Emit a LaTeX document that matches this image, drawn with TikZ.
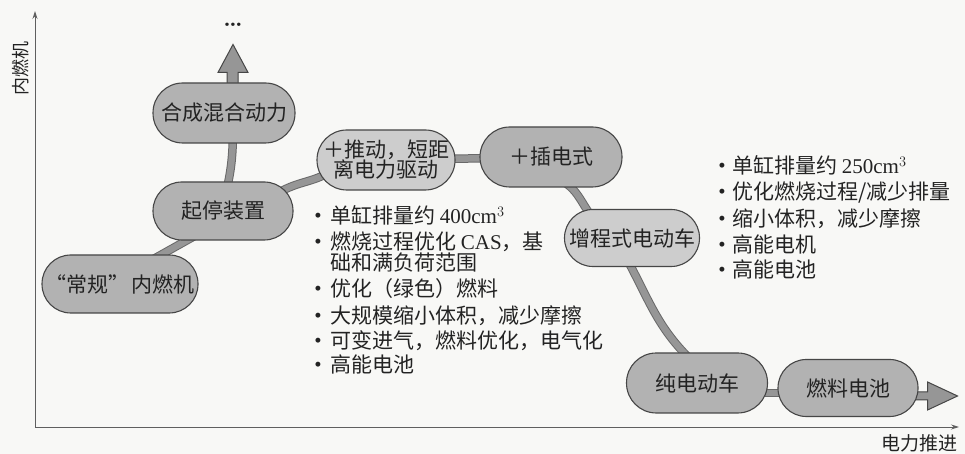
\documentclass[tikz,border=0pt]{standalone}
\usepackage{fontspec}
\newfontfamily\cjk{Noto Sans CJK SC}
\newfontfamily\latf{Liberation Serif}
\usetikzlibrary{backgrounds,calc,arrows.meta}
\definecolor{nodefill}{RGB}{178,178,178}
\definecolor{nodelight}{RGB}{205,205,205}
\definecolor{edge}{RGB}{70,70,70}
\definecolor{band}{RGB}{150,150,150}
\definecolor{bandedge}{RGB}{105,105,105}
\definecolor{ink}{RGB}{35,35,35}
\definecolor{axiscol}{RGB}{95,95,95}
\definecolor{paper}{RGB}{248,248,246}
\newcommand\bulA{\makebox[20pt][l]{\rmfamily\fontsize{22}{22}\selectfont\raisebox{2pt}{\textbullet}}}
\newcommand\bulB{\makebox[18pt][l]{\rmfamily\fontsize{22}{22}\selectfont\raisebox{2pt}{\textbullet}}}
\tikzset{
  pill/.style 2 args={draw=edge, line width=1.1pt, fill=nodefill, rectangle,
    minimum width=#1pt, minimum height=#2pt, inner sep=0pt,
    rounded corners=#2pt/2-0.2pt, font=\cjk\fontsize{21}{22}\selectfont,
    text=ink, align=center},
  conn/.style={draw=bandedge, line width=1pt, double=band, double distance=6.5pt},
  bigarrow/.style={draw=edge, line width=1pt, fill=band, line join=miter},
  axisline/.style={draw=axiscol, line width=0.9pt, -{Stealth[length=8pt,width=5pt]}},
  item/.style={anchor=base west, inner sep=0pt, text=ink, font=\cjk\fontsize{21}{22}\selectfont},
  axislabel/.style={inner sep=0pt, text=ink, font=\cjk\fontsize{18}{18}\selectfont}
}
\begin{document}
\begin{tikzpicture}[x=1pt,y=1pt]
\useasboundingbox (0,0) rectangle (965,454);

% nodes
\node[pill={156}{58}] (conv) at (120,170) {“常规”\hspace{3pt}内燃机};
\node[pill={140}{58}] (ss) at (223,243) {起停装置};
\node[pill={142}{60}] (syn) at (224,341) {合成混合动力};
\node[pill={138}{60}, fill=nodelight] (push) at (386,294) {＋推动，短距\\[-2pt]离电力驱动};
\node[pill={142}{60}] (plug) at (551,297) {＋插电式};
\node[pill={135}{57}, fill=nodelight] (rex) at (632,216) {增程式电动车};
\node[pill={141}{60}] (bev) at (697,71) {纯电动车};
\node[pill={140}{57}] (fc) at (848,66) {燃料电池};

\begin{pgfonlayer}{background}
\fill[paper] (0,0) rectangle (965,454);
\draw[conn] ($(conv.center)+(30,23)$) -- ($(ss.center)+(-23,-22)$);
\draw[conn] ($(ss.center)+(1,11)$) to[out=75,in=-90] ($(syn.center)+(9,-12)$);
\draw[conn] ($(ss.center)+(57,19)$) to[out=30,in=-150] ($(push.center)+(-56,-12)$);
\draw[conn] (push.center) -- (plug.center);
\draw[conn] ($(plug.center)+(9,-23)$) to[out=-25,in=140] ($(rex.center)+(-32,13)$);
\draw[conn] ($(rex.center)+(-3,-25)$) to[out=-62,in=135] ($(bev.center)+(-8,25)$);
\draw[conn] ($(bev.center)+(0,-10)$) -- ($(fc.center)+(0,-5)$);
% big arrows
\draw[bigarrow, shift={(syn.north)}] (3,-6) -- (3,10) -- (-6,10) -- (9,38) -- (24,10) -- (14,10) -- (14,-6) -- cycle;
\draw[bigarrow, shift={(fc.east)}] (-6,-12) -- (9,-12) -- (9,-22) -- (39,-8) -- (9,6) -- (9,-4) -- (-6,-4) -- cycle;
\end{pgfonlayer}

\node[text=ink, inner sep=0pt, font=\rmfamily\bfseries\fontsize{24}{24}\selectfont] (dots) at (233,429) {\ldots};

% axes
\coordinate (O) at (35,27);
\coordinate (ytop) at (35,443);
\coordinate (xend) at (959,27);
\draw[axisline] (O) -- (ytop);
\draw[axisline] (O) -- (xend);
\node[axislabel, rotate=90] (ylab) at (21,385) {内燃机};
\node[axislabel, font=\cjk\fontsize{19}{19}\selectfont] (xlab) at (919,11) {电力推进};

% left list
\node[item] (a1) at (310,230) {\bulA 单缸排量约 {\latf 400cm$^3$}};
\node[item] (a2) at (310,204) {\bulA 燃烧过程优化 {\latf CAS}，基};
\node[item] (a2b) at (330,183) {础和满负荷范围};
\node[item] (a3) at (310,157) {\bulA 优化（绿色）燃料};
\node[item] (a4) at (310,130) {\bulA 大规模缩小体积，减少摩擦};
\node[item] (a5) at (310,105) {\bulA 可变进气，燃料优化，电气化};
\node[item] (a6) at (310,81) {\bulA 高能电池};

% right list
\node[item] (b1) at (714,280) {\bulB 单缸排量约 {\latf 250cm$^3$}};
\node[item] (b2) at (714,254) {\bulB 优化燃烧过程/减少排量};
\node[item] (b3) at (714,227) {\bulB 缩小体积，减少摩擦};
\node[item] (b4) at (714,201) {\bulB 高能电机};
\node[item] (b5) at (714,176) {\bulB 高能电池};
\end{tikzpicture}
\end{document}
